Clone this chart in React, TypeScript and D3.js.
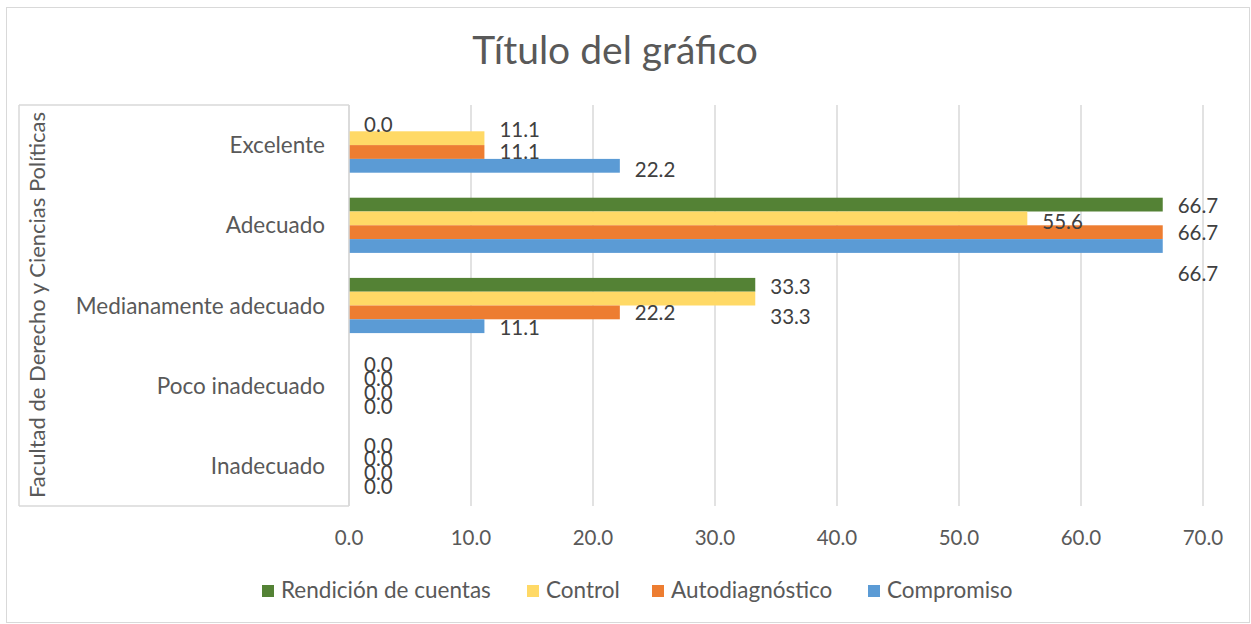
import React from "react";
import * as d3 from "d3";

const categories = ["Excelente", "Adecuado", "Medianamente adecuado", "Poco inadecuado", "Inadecuado"];
const seriesNames = ["Rendición de cuentas", "Control", "Autodiagnóstico", "Compromiso"];
const rendicion = [0.0, 66.7, 33.3, 0.0, 0.0];
const control = [11.1, 55.6, 33.3, 0.0, 0.0];
const autodiagnostico = [11.1, 66.7, 22.2, 0.0, 0.0];
const compromiso = [22.2, 66.7, 11.1, 0.0, 0.0];
const xTicks = [0, 10, 20, 30, 40, 50, 60, 70];
const title = "Título del gráfico";
const axisTitle = "Facultad de Derecho y Ciencias Políticas";

// label vertical nudges (layout only), per category, per series
const labelNudge = [
  [0, -9, 0, 3.5],
  [1.5, 3, 0, 28],
  [1.5, 18, 0, 1.5],
  [0, 0, 0, 0],
  [0, 0, 0, 0],
];

const colors = ["#548235", "#ffd966", "#ed7d31", "#5b9bd5"];
const FONT = "Lato, 'Open Sans', sans-serif";
const TXT = "#595959";
const GRID = "#d9d9d9";

export default function App() {
  const values = [rendicion, control, autodiagnostico, compromiso];
  const W = 1251, H = 624;
  const left = 349, right = 1203, top = 105, bottom = 506;
  const x = d3.scaleLinear().domain([0, 70]).range([left, right]);
  const y = d3.scaleBand<string>().domain(categories).range([top, bottom]).padding(0);
  const inner = d3
    .scaleBand<string>()
    .domain(seriesNames)
    .range([0, y.bandwidth()])
    .paddingInner(0)
    .paddingOuter(0.906);
  const fs = 20.5;
  const cfs = 22.5;
  const fmt = d3.format(".1f");

  const legendX = [262, 527, 652, 868];

  return (
    <svg
      width={W}
      height={H}
      style={{ position: "absolute", left: 0, top: 0, background: "#fff" }}
      fontFamily={FONT}
    >
      <rect x={0} y={0} width={W} height={H} fill="#fff" />
      <rect x={6.5} y={7.5} width={1243} height={615} fill="none" stroke={GRID} strokeWidth={1} />
      <text x={615} y={64} textAnchor="middle" fontSize={39} fill={TXT}>
        {title}
      </text>
      {/* gridlines */}
      {xTicks.map((t) => (
        <line key={t} x1={x(t)} x2={x(t)} y1={top} y2={bottom} stroke={GRID} strokeWidth={1.5} />
      ))}
      {/* category axis box */}
      <line x1={19} x2={left} y1={top} y2={top} stroke={GRID} strokeWidth={1.5} />
      <line x1={19} x2={left} y1={bottom} y2={bottom} stroke={GRID} strokeWidth={1.5} />
      <line x1={19} x2={19} y1={top} y2={bottom} stroke={GRID} strokeWidth={1.5} />
      {/* bars */}
      {categories.map((c, ci) =>
        seriesNames.map((s, si) => {
          const v = values[si][ci];
          const by = (y(c) as number) + (inner(s) as number);
          return (
            <rect
              key={c + s}
              x={x(0)}
              y={by}
              width={x(v) - x(0)}
              height={inner.bandwidth()}
              fill={colors[si]}
            />
          );
        })
      )}
      <line x1={left} x2={left} y1={top} y2={bottom} stroke={GRID} strokeWidth={1.5} />
      {/* data labels */}
      {categories.map((c, ci) =>
        seriesNames.map((s, si) => {
          const v = values[si][ci];
          const cy = (y(c) as number) + (inner(s) as number) + inner.bandwidth() / 2 + labelNudge[ci][si];
          return (
            <text key={"l" + c + s} x={x(v) + 15} y={cy + fs * 0.36} fontSize={fs} fill="#404040">
              {fmt(v)}
            </text>
          );
        })
      )}
      {/* category labels */}
      {categories.map((c) => (
        <text
          key={"c" + c}
          x={325}
          y={(y(c) as number) + y.bandwidth() / 2 + cfs * 0.36}
          textAnchor="end"
          fontSize={cfs}
          fill={TXT}
        >
          {c}
        </text>
      ))}
      {/* axis title */}
      <text
        transform={`translate(${45},${305}) rotate(-90)`}
        textAnchor="middle"
        fontSize={22}
        fill={TXT}
      >
        {axisTitle}
      </text>
      {/* x tick labels */}
      {xTicks.map((t) => (
        <text key={"t" + t} x={x(t)} y={545} textAnchor="middle" fontSize={20.5} fill={TXT}>
          {fmt(t)}
        </text>
      ))}
      {/* legend */}
      {seriesNames.map((s, i) => (
        <g key={"lg" + s}>
          <rect x={legendX[i]} y={585} width={12} height={12} fill={colors[i]} />
          <text x={legendX[i] + 19} y={598} fontSize={22.5} fill={TXT}>
            {s}
          </text>
        </g>
      ))}
    </svg>
  );
}
